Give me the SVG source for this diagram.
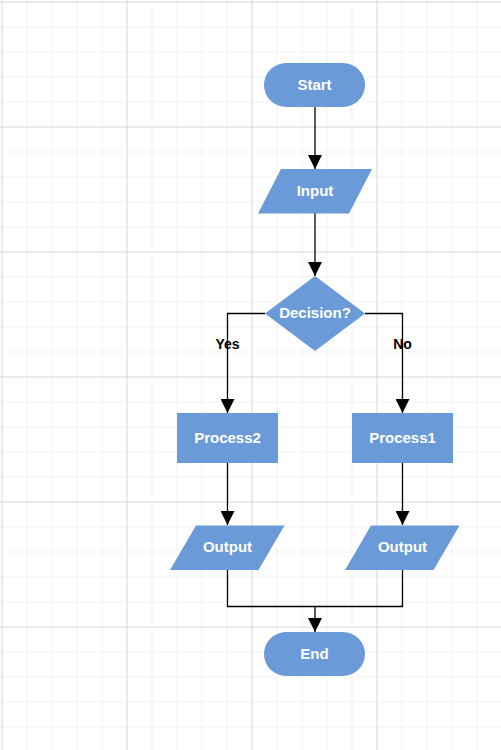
<svg xmlns="http://www.w3.org/2000/svg" width="501" height="750" viewBox="0 0 501 750">
<defs>
<pattern id="minor" x="1.5" y="1.5" width="25" height="25" patternUnits="userSpaceOnUse">
<path d="M0,0 H25 M0,0 V25" stroke="#e6e6e6" stroke-width="1" fill="none"/>
</pattern>
<pattern id="major" x="1.5" y="1.5" width="125" height="125" patternUnits="userSpaceOnUse">
<path d="M0,0 H125 M0,0 V125" stroke="#d4d4d4" stroke-width="1.5" fill="none"/>
</pattern>
<marker id="arrow" markerWidth="14" markerHeight="14" refX="14" refY="7" orient="auto" markerUnits="userSpaceOnUse">
<path d="M0,0 L14,7 L0,14 z" fill="#000"/>
</marker>
<style>
.shape { fill: #6a9bd8; stroke: none; }
.label { fill: #ffffff; font-family: "Liberation Sans", Arial, sans-serif; font-size: 15px; font-weight: bold; text-anchor: middle; dominant-baseline: central; }
.edge { fill: none; stroke: #000; stroke-width: 1.3; }
.elabel { fill: #000; font-family: "Liberation Sans", Arial, sans-serif; font-size: 14px; font-weight: bold; text-anchor: middle; dominant-baseline: central; }
</style>
</defs>
<rect width="501" height="750" fill="#ffffff"/>
<rect width="501" height="750" fill="url(#minor)"/>
<rect width="501" height="750" fill="url(#major)"/>

<g id="connectors">
<path class="edge" d="M315,107 V169" marker-end="url(#arrow)"/>
<path class="edge" d="M315,213 V276" marker-end="url(#arrow)"/>
<path class="edge" d="M265,313.5 H227.5 V413" marker-end="url(#arrow)"/>
<path class="edge" d="M365,313.5 H402.5 V413" marker-end="url(#arrow)"/>
<path class="edge" d="M227.5,463 V525" marker-end="url(#arrow)"/>
<path class="edge" d="M402.5,463 V525" marker-end="url(#arrow)"/>
<path class="edge" d="M227.5,570 V606.5 H402.5 V570"/>
<path class="edge" d="M315,606.5 V632" marker-end="url(#arrow)"/>
<text class="elabel" x="227.5" y="343.5">Yes</text>
<text class="elabel" x="402.5" y="343.5">No</text>
</g>

<g id="start">
<rect class="shape" x="264" y="63" width="101" height="44" rx="22" ry="22"/>
<text class="label" x="314.5" y="84.5">Start</text>
</g>
<g id="input">
<polygon class="shape" points="281,169 372,169 349,213.5 258,213.5"/>
<text class="label" x="315" y="190.5">Input</text>
</g>
<g id="decision">
<polygon class="shape" points="315,276 365,313.5 315,351 265,313.5"/>
<text class="label" x="315" y="312">Decision?</text>
</g>
<g id="process2">
<rect class="shape" x="177" y="413" width="101" height="50"/>
<text class="label" x="227.5" y="437">Process2</text>
</g>
<g id="process1">
<rect class="shape" x="352" y="413" width="101" height="50"/>
<text class="label" x="402.5" y="437">Process1</text>
</g>
<g id="output2">
<polygon class="shape" points="196,525.5 284.5,525.5 258.5,570 170,570"/>
<text class="label" x="227.5" y="546.5">Output</text>
</g>
<g id="output1">
<polygon class="shape" points="371,525.5 459.5,525.5 433.5,570 345,570"/>
<text class="label" x="402.5" y="546.5">Output</text>
</g>
<g id="end">
<rect class="shape" x="264" y="632" width="101" height="44" rx="22" ry="22"/>
<text class="label" x="314.5" y="653">End</text>
</g>
</svg>
